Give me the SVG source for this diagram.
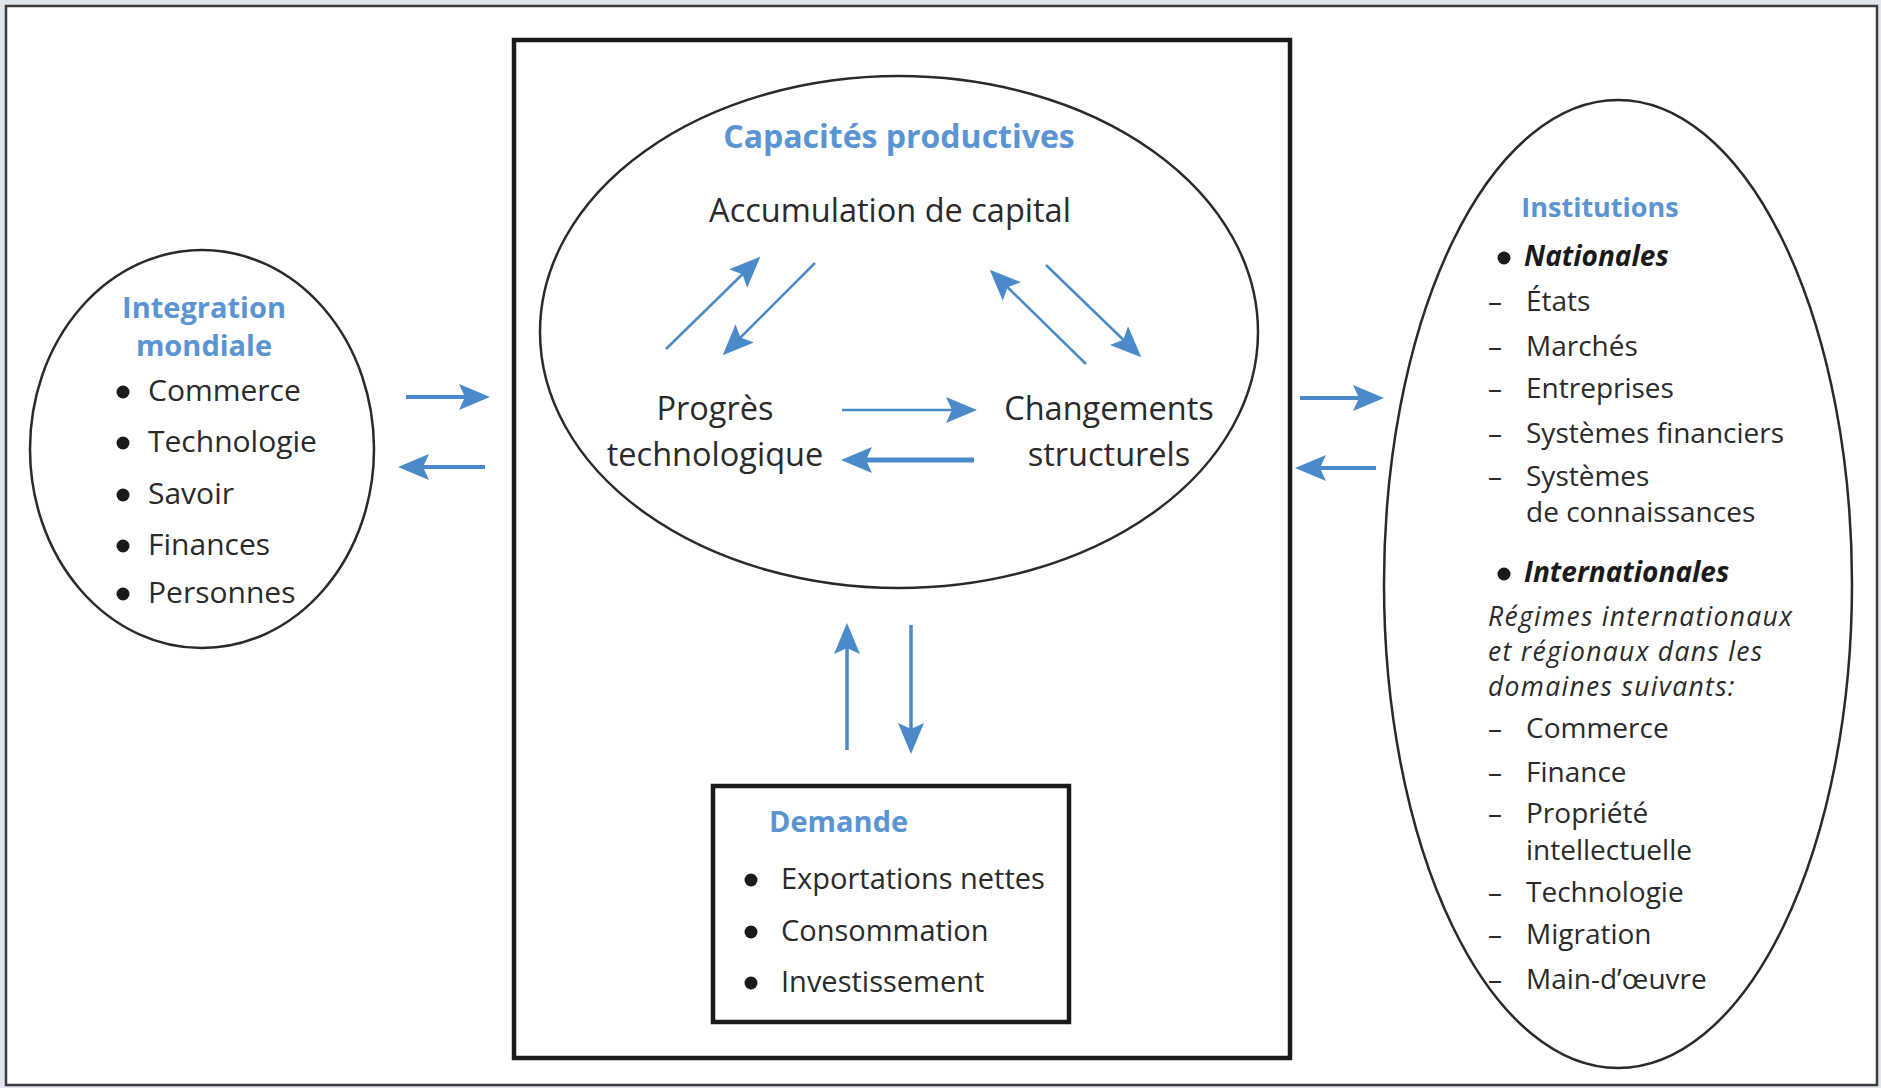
<svg xmlns="http://www.w3.org/2000/svg" width="1881" height="1088" viewBox="0 0 1881 1088">
<style>
.t{font-family:"Open Sans","Liberation Sans",sans-serif;font-size:30px;fill:#2a2a2a}
.h{font-family:"Open Sans","Liberation Sans",sans-serif;font-size:29px;font-weight:bold;fill:#5b94d2}
.r{font-family:"Open Sans","Liberation Sans",sans-serif;font-size:28px;fill:#2a2a2a}
.bi{font-style:italic;font-weight:bold;fill:#1a1a1a}
.i{font-style:italic;font-size:26.5px;letter-spacing:1.3px}
.c{font-size:32.5px}
.shape{fill:none;stroke:#2a2a2a;stroke-width:2.5}
.box{fill:none;stroke:#1a1a1a;stroke-width:4.5}
.a{stroke:#4a8acb;fill:none;marker-end:url(#ah)}
.dot{fill:#1a1a1a}
</style>
<defs>
<marker id="ah" markerUnits="userSpaceOnUse" markerWidth="34" markerHeight="30" refX="25" refY="13" orient="auto">
<path d="M0,0 L31,13 L0,26 L6,13 Z" fill="#4a8acb"/>
</marker>
</defs>
<rect x="0" y="0" width="1881" height="1088" fill="#e1e6ee"/>
<rect x="6" y="6" width="1871" height="1079" fill="#ffffff" stroke="#3c3c3c" stroke-width="2.5"/>

<g id="integration">
<ellipse class="shape" cx="202" cy="449" rx="172" ry="199"/>
<text class="h" x="204" y="318" text-anchor="middle">Integration</text>
<text class="h" x="204" y="356" text-anchor="middle">mondiale</text>
<circle class="dot" cx="123" cy="392" r="6.5"/>
<circle class="dot" cx="123" cy="443" r="6.5"/>
<circle class="dot" cx="123" cy="495" r="6.5"/>
<circle class="dot" cx="123" cy="546" r="6.5"/>
<circle class="dot" cx="123" cy="594" r="6.5"/>
<text class="t" x="148" y="401">Commerce</text>
<text class="t" x="148" y="452">Technologie</text>
<text class="t" x="148" y="504">Savoir</text>
<text class="t" x="148" y="555">Finances</text>
<text class="t" x="148" y="603">Personnes</text>
</g>

<g id="central">
<rect class="box" x="514" y="40" width="776" height="1018"/>
</g>

<g id="capacites">
<ellipse class="shape" cx="899" cy="332" rx="359" ry="256"/>
<text class="h" x="899" y="148" text-anchor="middle" style="font-size:32px">Capacités productives</text>
<text class="t c" x="890" y="222" text-anchor="middle">Accumulation de capital</text>
<text class="t c" x="715" y="420" text-anchor="middle">Progrès</text>
<text class="t c" x="715" y="466" text-anchor="middle">technologique</text>
<text class="t c" x="1109" y="420" text-anchor="middle">Changements</text>
<text class="t c" x="1109" y="466" text-anchor="middle">structurels</text>
</g>

<g id="demande">
<rect class="box" x="713" y="786" width="356" height="236"/>
<text class="h" x="769" y="832">Demande</text>
<circle class="dot" cx="751" cy="880" r="6.5"/>
<circle class="dot" cx="751" cy="932" r="6.5"/>
<circle class="dot" cx="751" cy="983" r="6.5"/>
<text class="t" x="781" y="889" style="font-size:29px">Exportations nettes</text>
<text class="t" x="781" y="941" style="font-size:29px">Consommation</text>
<text class="t" x="781" y="992" style="font-size:29px">Investissement</text>
</g>

<g id="institutions">
<ellipse class="shape" cx="1618" cy="584" rx="234" ry="484"/>
<text class="h" x="1600" y="217" text-anchor="middle" style="font-size:27px">Institutions</text>
<circle class="dot" cx="1504" cy="258" r="6.5"/>
<text class="r bi" x="1524" y="266">Nationales</text>
<g class="r">
<text x="1488" y="311">–</text><text x="1526" y="311">États</text>
<text x="1488" y="356">–</text><text x="1526" y="356">Marchés</text>
<text x="1488" y="398">–</text><text x="1526" y="398">Entreprises</text>
<text x="1488" y="443">–</text><text x="1526" y="443">Systèmes financiers</text>
<text x="1488" y="486">–</text><text x="1526" y="486">Systèmes</text>
<text x="1526" y="522">de connaissances</text>
</g>
<circle class="dot" cx="1504" cy="574" r="6.5"/>
<text class="r bi" x="1524" y="582">Internationales</text>
<text class="r i" x="1488" y="626">Régimes internationaux</text>
<text class="r i" x="1488" y="661">et régionaux dans les</text>
<text class="r i" x="1488" y="696">domaines suivants:</text>
<g class="r">
<text x="1488" y="738">–</text><text x="1526" y="738">Commerce</text>
<text x="1488" y="782">–</text><text x="1526" y="782">Finance</text>
<text x="1488" y="823">–</text><text x="1526" y="823">Propriété</text>
<text x="1526" y="860">intellectuelle</text>
<text x="1488" y="902">–</text><text x="1526" y="902">Technologie</text>
<text x="1488" y="944">–</text><text x="1526" y="944">Migration</text>
<text x="1488" y="989">–</text><text x="1526" y="989">Main-d’œuvre</text>
</g>
</g>

<g id="connectors">
<line class="a" x1="406" y1="397" x2="484" y2="397" stroke-width="4"/>
<line class="a" x1="485" y1="467" x2="404" y2="467" stroke-width="4"/>
<line class="a" x1="1300" y1="398" x2="1378" y2="398" stroke-width="4"/>
<line class="a" x1="1376" y1="468" x2="1301" y2="468" stroke-width="4"/>
<line class="a" x1="666" y1="349" x2="756" y2="261" stroke-width="2.5"/>
<line class="a" x1="815" y1="263" x2="727" y2="351" stroke-width="2.5"/>
<line class="a" x1="1086" y1="364" x2="994" y2="274" stroke-width="2.5"/>
<line class="a" x1="1046" y1="265" x2="1137" y2="353" stroke-width="2.5"/>
<line class="a" x1="842" y1="410" x2="971" y2="410" stroke-width="2.5"/>
<line class="a" x1="974" y1="460" x2="847" y2="460" stroke-width="5"/>
<line class="a" x1="847" y1="750" x2="847" y2="629" stroke-width="3.5"/>
<line class="a" x1="911" y1="625" x2="911" y2="748" stroke-width="3.5"/>
</g>
</svg>
